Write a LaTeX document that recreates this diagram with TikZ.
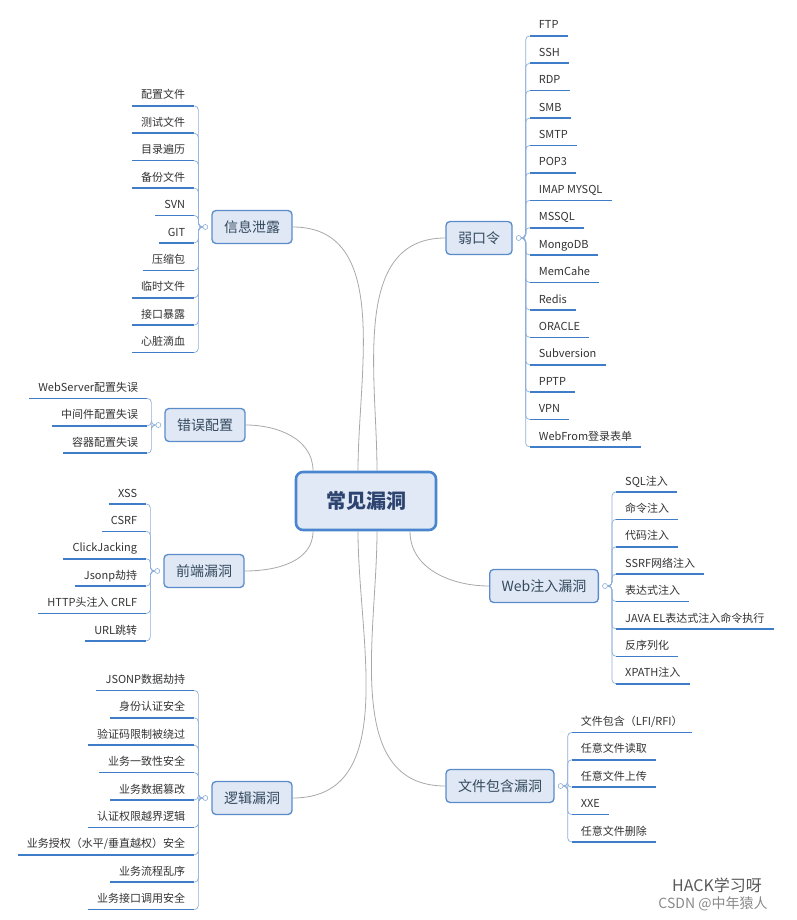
\documentclass[tikz,border=0pt]{standalone}
\usepackage{fontspec}
\setmainfont{Noto Sans CJK SC}
\usetikzlibrary{positioning}

\definecolor{hubline}{HTML}{4A85CF}
\definecolor{hubfill}{HTML}{E0E9F5}
\definecolor{hubtext}{HTML}{2E4470}
\definecolor{topicline}{HTML}{5A8CCB}
\definecolor{topicfill}{HTML}{DFE8F4}
\definecolor{topictext}{HTML}{34495E}
\definecolor{ulinecol}{HTML}{3F7DC8}
\definecolor{spinecol}{HTML}{8DAFD9}
\definecolor{linkcol}{HTML}{A8A8A8}
\definecolor{leaftext}{HTML}{333333}
\definecolor{wmcol}{HTML}{8A8A8A}

\begin{document}
\begin{tikzpicture}[
        x=1pt, y=-1pt,
        node distance=0pt,
        hub/.style={draw=hubline, fill=hubfill, line width=2.6pt, rounded corners=7pt, minimum width=140pt, minimum height=58pt, font=\fontsize{20}{24}\selectfont\bfseries, text=hubtext},
        topic/.style={draw=topicline, fill=topicfill, line width=1.3pt, rounded corners=4pt, minimum height=33pt, inner xsep=12pt, font=\fontsize{14}{16}\selectfont, text=topictext},
        knob/.style={circle, draw=spinecol, fill=white, line width=0.6pt, inner sep=0pt, minimum size=5pt},
        leaf/.style={inner xsep=9pt, inner ysep=2pt, text height=18.3pt, text depth=4.7pt, font=\fontsize{11}{13}\selectfont, text=leaftext},
        uline/.style={draw=ulinecol, line width=1.6pt},
        spineL/.style={draw=spinecol, line width=0.7pt, rounded corners=4pt, to path={-| ([xshift=-7pt]\tikztotarget.center) -- (\tikztotarget.west)}},
        spineR/.style={draw=spinecol, line width=0.7pt, rounded corners=4pt, to path={-| ([xshift=7pt]\tikztotarget.center) -- (\tikztotarget.east)}},
        leafL/.style={leaf, anchor=north east, append after command={(\tikzlastnode.south east) edge[spineL] (#1) (\tikzlastnode.south west) edge[uline] (\tikzlastnode.south east)}},
        leafR/.style={leaf, anchor=north west, append after command={(\tikzlastnode.south west) edge[spineR] (#1) (\tikzlastnode.south west) edge[uline] (\tikzlastnode.south east)}},
        link/.style={draw=linkcol, line width=0.8pt},
        wm/.style={text=wmcol, inner sep=0pt}
    ]
        \useasboundingbox (0,0) rectangle (796,920);

        \node[hub] (hub) at (366,501) {常见漏洞};

        % left side
        \node[topic] (inf) at (252,227) {信息泄露};
        \node[knob] (infk) at ([xshift=-6pt]inf.west) {};
        \node[leafL=infk] (inf1) at ([xshift=-11pt,yshift=148.5pt]infk.center) {配置文件};
        \node[leafL=infk, below left=of inf1.south east] (inf2) {测试文件};
        \node[leafL=infk, below left=of inf2.south east] (inf3) {目录遍历};
        \node[leafL=infk, below left=of inf3.south east] (inf4) {备份文件};
        \node[leafL=infk, below left=of inf4.south east] (inf5) {SVN};
        \node[leafL=infk, below left=of inf5.south east] (inf6) {GIT};
        \node[leafL=infk, below left=of inf6.south east] (inf7) {压缩包};
        \node[leafL=infk, below left=of inf7.south east] (inf8) {临时文件};
        \node[leafL=infk, below left=of inf8.south east] (inf9) {接口暴露};
        \node[leafL=infk, below left=of inf9.south east] (inf10) {心脏滴血};

        \node[topic] (cfg) at (205,425) {错误配置};
        \node[knob] (cfgk) at ([xshift=-6pt]cfg.west) {};
        \node[leafL=cfgk] (cfg1) at ([xshift=-11pt,yshift=54pt]cfgk.center) {WebServer配置失误};
        \node[leafL=cfgk, below left=of cfg1.south east] (cfg2) {中间件配置失误};
        \node[leafL=cfgk, below left=of cfg2.south east] (cfg3) {容器配置失误};

        \node[topic] (fe) at (204,571) {前端漏洞};
        \node[knob] (fek) at ([xshift=-6pt]fe.west) {};
        \node[leafL=fek] (fe1) at ([xshift=-11pt,yshift=94.5pt]fek.center) {XSS};
        \node[leafL=fek, below left=of fe1.south east] (fe2) {CSRF};
        \node[leafL=fek, below left=of fe2.south east] (fe3) {ClickJacking};
        \node[leafL=fek, below left=of fe3.south east] (fe4) {Jsonp劫持};
        \node[leafL=fek, below left=of fe4.south east] (fe5) {HTTP头注入 CRLF};
        \node[leafL=fek, below left=of fe5.south east] (fe6) {URL跳转};

        \node[topic] (lg) at (252,798) {逻辑漏洞};
        \node[knob] (lgk) at ([xshift=-6pt]lg.west) {};
        \node[leafL=lgk] (lg1) at ([xshift=-11pt,yshift=135pt]lgk.center) {JSONP数据劫持};
        \node[leafL=lgk, below left=of lg1.south east] (lg2) {身份认证安全};
        \node[leafL=lgk, below left=of lg2.south east] (lg3) {验证码限制被绕过};
        \node[leafL=lgk, below left=of lg3.south east] (lg4) {业务一致性安全};
        \node[leafL=lgk, below left=of lg4.south east] (lg5) {业务数据篡改};
        \node[leafL=lgk, below left=of lg5.south east] (lg6) {认证权限越界逻辑};
        \node[leafL=lgk, below left=of lg6.south east] (lg7) {业务授权（水平/垂直越权）安全};
        \node[leafL=lgk, below left=of lg7.south east] (lg8) {业务流程乱序};
        \node[leafL=lgk, below left=of lg8.south east] (lg9) {业务接口调用安全};

        % right side
        \node[topic] (wk) at (479,238) {弱口令};
        \node[knob] (wkk) at ([xshift=6pt]wk.east) {};
        \node[leafR=wkk] (wk1) at ([xshift=11pt,yshift=229.5pt]wkk.center) {FTP};
        \node[leafR=wkk, below right=of wk1.south west] (wk2) {SSH};
        \node[leafR=wkk, below right=of wk2.south west] (wk3) {RDP};
        \node[leafR=wkk, below right=of wk3.south west] (wk4) {SMB};
        \node[leafR=wkk, below right=of wk4.south west] (wk5) {SMTP};
        \node[leafR=wkk, below right=of wk5.south west] (wk6) {POP3};
        \node[leafR=wkk, below right=of wk6.south west] (wk7) {IMAP MYSQL};
        \node[leafR=wkk, below right=of wk7.south west] (wk8) {MSSQL};
        \node[leafR=wkk, below right=of wk8.south west] (wk9) {MongoDB};
        \node[leafR=wkk, below right=of wk9.south west] (wk10) {MemCahe};
        \node[leafR=wkk, below right=of wk10.south west] (wk11) {Redis};
        \node[leafR=wkk, below right=of wk11.south west] (wk12) {ORACLE};
        \node[leafR=wkk, below right=of wk12.south west] (wk13) {Subversion};
        \node[leafR=wkk, below right=of wk13.south west] (wk14) {PPTP};
        \node[leafR=wkk, below right=of wk14.south west] (wk15) {VPN};
        \node[leafR=wkk, below right=of wk15.south west] (wk16) {WebFrom登录表单};

        \node[topic] (web) at (544,586) {Web注入漏洞};
        \node[knob] (webk) at ([xshift=6pt]web.east) {};
        \node[leafR=webk] (web1) at ([xshift=11pt,yshift=121.5pt]webk.center) {SQL注入};
        \node[leafR=webk, below right=of web1.south west] (web2) {命令注入};
        \node[leafR=webk, below right=of web2.south west] (web3) {代码注入};
        \node[leafR=webk, below right=of web3.south west] (web4) {SSRF网络注入};
        \node[leafR=webk, below right=of web4.south west] (web5) {表达式注入};
        \node[leafR=webk, below right=of web5.south west] (web6) {JAVA EL表达式注入命令执行};
        \node[leafR=webk, below right=of web6.south west] (web7) {反序列化};
        \node[leafR=webk, below right=of web7.south west] (web8) {XPATH注入};

        \node[topic] (file) at (500,786) {文件包含漏洞};
        \node[knob] (filek) at ([xshift=6pt]file.east) {};
        \node[leafR=filek] (file1) at ([xshift=11pt,yshift=81pt]filek.center) {文件包含（LFI/RFI）};
        \node[leafR=filek, below right=of file1.south west] (file2) {任意文件读取};
        \node[leafR=filek, below right=of file2.south west] (file3) {任意文件上传};
        \node[leafR=filek, below right=of file3.south west] (file4) {XXE};
        \node[leafR=filek, below right=of file4.south west] (file5) {任意文件删除};

        % links from the hub
        \draw[link] ([xshift=-8pt]hub.north) to[out=90, in=0] (inf.east);
        \draw[link] ([xshift=-53pt]hub.north) to[out=90, in=0] (cfg.east);
        \draw[link] ([xshift=11pt]hub.north) to[out=90, in=180] (wk.west);
        \draw[link] ([xshift=-53pt]hub.south) to[out=-90, in=0] (fe.east);
        \draw[link] ([xshift=-8pt]hub.south) to[out=-90, in=0] (lg.east);
        \draw[link] ([xshift=11pt]hub.south) to[out=-90, in=180] (file.west);
        \draw[link] ([xshift=44pt]hub.south) to[out=-90, in=180] (web.west);

        % watermark
        \node[wm, text=black!65, font=\fontsize{16}{18}\selectfont] (hack) at (717,885) {HACK学习呀};
        \node[wm, font=\fontsize{14}{16}\selectfont] (csdn) at (713,904) {CSDN @中年猿人};
\end{tikzpicture}
\end{document}
